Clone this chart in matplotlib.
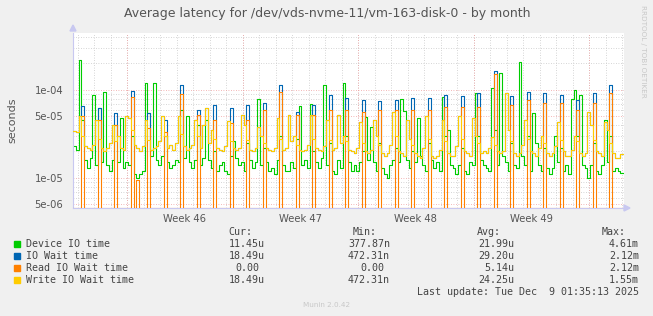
import numpy as np
import matplotlib
matplotlib.use("Agg")
import matplotlib.pyplot as plt
from matplotlib.patches import Rectangle, Polygon

W, H = 653, 316

# ── data (4-hour samples, microseconds) ─────────────────────────
device_us = [
    23, 21, 220, 45, 16, 13,
    17, 88, 14, 62, 15, 95,
    14, 12, 16, 40, 15, 48,
    13, 15, 14, 30, 11, 10,
    11, 12, 120, 55, 18, 120,
    16, 14, 18, 30, 15, 13,
    14, 16, 15, 60, 17, 50,
    15, 13, 16, 40, 14, 17,
    45, 16, 13, 20, 12, 14,
    15, 12, 11, 18, 26, 17,
    14, 15, 12, 25, 16, 13,
    15, 80, 14, 22, 15, 12,
    13, 11, 16, 30, 14, 12,
    12, 15, 13, 28, 65, 14,
    16, 13, 70, 20, 15, 13,
    17, 115, 14, 25, 12, 11,
    16, 13, 120, 30, 15, 12,
    14, 12, 15, 20, 49, 16,
    38, 15, 12, 25, 13, 11,
    10, 14, 16, 22, 15, 79,
    58, 16, 13, 20, 15, 48,
    18, 14, 12, 25, 16, 13,
    15, 12, 84, 30, 35, 14,
    13, 11, 14, 22, 12, 11,
    15, 14, 92, 30, 16, 14,
    13, 12, 105, 35, 14, 156,
    18, 15, 12, 25, 14, 13,
    208, 18, 14, 30, 12, 55,
    25, 14, 12, 22, 13, 11,
    13, 30, 15, 22, 12, 14,
    11, 79, 100, 30, 88, 14,
    13, 10, 14, 25, 12, 11,
    14, 46, 15, 30, 12, 13,
    12, 11.45,
]
write_us = [
    34, 33, 50, 30, 23, 22,
    21, 24, 45, 28, 22, 20,
    22, 25, 40, 26, 30, 22,
    21, 50, 48, 35, 24, 22,
    20, 23, 45, 27, 21, 22,
    23, 26, 50, 30, 22, 24,
    21, 25, 50, 32, 23, 21,
    22, 24, 45, 30, 22, 40,
    62, 25, 35, 28, 22, 21,
    20, 23, 44, 26, 22, 21,
    22, 52, 40, 27, 21, 20,
    22, 38, 30, 25, 22, 21,
    20, 22, 48, 28, 21, 22,
    52, 26, 30, 24, 21, 20,
    21, 24, 52, 28, 22, 21,
    20, 23, 45, 27, 21, 22,
    52, 25, 30, 26, 21, 20,
    19, 22, 43, 25, 20, 19,
    21, 45, 30, 24, 19, 18,
    19, 24, 56, 30, 20, 19,
    18, 45, 28, 24, 19, 18,
    17, 22, 50, 28, 18, 17,
    18, 21, 45, 26, 19, 18,
    18, 23, 50, 28, 20, 19,
    18, 48, 30, 25, 19, 20,
    19, 22, 29, 24, 20, 19,
    20, 92, 35, 26, 19, 18,
    19, 24, 46, 28, 20, 19,
    18, 22, 30, 25, 19, 18,
    19, 23, 43, 27, 20, 18,
    18, 21, 30, 26, 19, 18,
    19, 56, 40, 27, 20, 19,
    18, 43, 35, 25, 19, 17,
    17, 18.49,
]
# one read burst per day (4th sample of each day)
read_peak_us = [50, 45, 40, 83, 37, 33, 90, 52, 46, 42, 46, 59, 95, 52, 52, 59, 60,
                56, 60, 60, 60, 60, 64, 64, 64, 150, 67, 77, 71, 71, 59, 71, 92]
iowait_peak_us = [66, 62, 55, 97, 55, 45, 114, 60, 67, 62, 67, 71, 114, 56, 67, 88, 81,
                  77, 75, 77, 81, 81, 88, 85, 92, 164, 85, 95, 92, 88, 77, 92, 114]
extra_read = {23: 9.5}

week_labels = ["Week 46", "Week 47", "Week 48", "Week 49"]
legend_names = ["Device IO time", "IO Wait time", "Read IO Wait time", "Write IO Wait time"]
cur_vals = ["11.45u", "18.49u", "0.00", "18.49u"]
min_vals = ["377.87n", "472.31n", "0.00", "472.31n"]
avg_vals = ["21.99u", "29.20u", "5.14u", "24.25u"]
max_vals = ["4.61m", "2.12m", "2.12m", "1.55m"]
colors = ["#00CC00", "#0066B3", "#FF8000", "#FFCC00"]

# ── build series ───────────────────────────────────────────────
N = len(device_us)
device = np.array(device_us) * 1e-6
write = np.array(write_us) * 1e-6
read = np.zeros(N)
iowait = write.copy()
for k, (r, b) in enumerate(zip(read_peak_us, iowait_peak_us)):
    read[3 + 6 * k] = r * 1e-6
    iowait[3 + 6 * k] = b * 1e-6
for i, v in extra_read.items():
    read[i] = v * 1e-6

t = np.arange(N + 1) / 6.0
YMIN, YMAX = 4.56e-6, 4.44e-4
XMAX = 551 / 16.5

def ext(a):
    return np.append(a, a[-1])

# ── figure ─────────────────────────────────────────────────────
fig = plt.figure(figsize=(W / 100, H / 100), dpi=100, facecolor="#F0F0F0")
ax = fig.add_axes([73 / W, 1 - 208 / H, 551 / W, 175 / H])
ax.set_facecolor("white")
ax.set_yscale("log")
ax.set_xlim(0, XMAX)
ax.set_ylim(YMIN, YMAX)

# grid
first_week = (127 - 73) / 16.5
for d in np.arange(first_week - 3, XMAX, 1.0):
    ax.axvline(d, color="#c8c8c8", lw=0.6, ls=(0, (1, 2)), zorder=0)
weeks = np.arange(first_week, XMAX, 7.0)
for w in weeks:
    ax.axvline(w, color="#f0a0a0", lw=0.6, ls=(0, (1, 2)), zorder=0)
for e in (-6, -5, -4):
    for m in range(1, 10):
        v = m * 10.0 ** e
        if YMIN < v < YMAX:
            major = m in (1, 5)
            ax.axhline(v, color="#f0a0a0" if major else "#c8c8c8", lw=0.6,
                       ls=(0, (1, 2)), zorder=0)

# series
ax.step(t, ext(device), where="post", color=colors[0], lw=0.8, zorder=2)
ax.step(t, ext(iowait), where="post", color=colors[1], lw=0.8, zorder=3)
ax.step(t, ext(np.maximum(read, YMIN)), where="post", color=colors[2], lw=0.8, zorder=4)
ax.step(t, ext(write), where="post", color=colors[3], lw=0.8, zorder=5)

# axes styling
for s in ("top", "right"):
    ax.spines[s].set_visible(False)
ax.spines["left"].set_color("#c8c8f0")
ax.spines["bottom"].set_color("#c8c8f0")
ax.set_yticks([5e-6, 1e-5, 5e-5, 1e-4])
ax.set_yticklabels(["5e-06", "1e-05", "5e-05", "1e-04"])
ax.yaxis.set_minor_locator(matplotlib.ticker.NullLocator())
ax.tick_params(axis="y", length=0, pad=7, labelsize=7.2, labelcolor="#555555")
ax.set_xticks(weeks[:4] + 3.5)
ax.set_xticklabels(week_labels)
ax.tick_params(axis="x", length=0, pad=4, labelsize=7.2, labelcolor="#555555")
ax.set_ylabel("seconds", fontsize=8, color="#555555", labelpad=12)

def fx(x):
    return x / W

def fy(y):
    return 1 - y / H

# axis arrows
fig.patches.append(Polygon([[fx(70), fy(31)], [fx(76), fy(31)], [fx(73), fy(25)]],
                           closed=True, transform=fig.transFigure,
                           color="#c8c8f0", zorder=5))
fig.patches.append(Polygon([[fx(624), fy(205)], [fx(624), fy(211)], [fx(630), fy(208)]],
                           closed=True, transform=fig.transFigure,
                           color="#c8c8f0", zorder=5))

fig.text(fx(327), fy(13), "Average latency for /dev/vds-nvme-11/vm-163-disk-0 - by month",
         ha="center", va="center", fontsize=9.0, color="#555555")
fig.text(fx(643), fy(5), "RRDTOOL / TOBI OETIKER", rotation=-90, ha="center", va="top",
         fontsize=5.2, color="#c8c8c8")

# legend
mono = dict(family="DejaVu Sans Mono", fontsize=7.2, color="#444444", va="center")
for head, xr in (("Cur:", 252), ("Min:", 377), ("Avg:", 501), ("Max:", 626)):
    fig.text(fx(xr), fy(232), head, ha="right", **mono)
for i, name in enumerate(legend_names):
    y = 244 + 12 * i
    fig.patches.append(Rectangle((fx(14), fy(y + 3)), 6 / W, 6 / H,
                                 transform=fig.transFigure, color=colors[i]))
    fig.text(fx(26), fy(y), name, ha="left", **mono)
    for vals, xr in ((cur_vals, 265), (min_vals, 390), (avg_vals, 514), (max_vals, 639)):
        v = vals[i]
        fig.text(fx(xr - (6 if not v[-1].isalpha() else 0)), fy(y), v, ha="right", **mono)
fig.text(fx(639), fy(292), "Last update: Tue Dec  9 01:35:13 2025", ha="right", **mono)
fig.text(fx(327), fy(305), "Munin 2.0.42", ha="center", va="center",
         fontsize=5.2, color="#c8c8c8")

fig.savefig("out.png", dpi=100, facecolor=fig.get_facecolor())
